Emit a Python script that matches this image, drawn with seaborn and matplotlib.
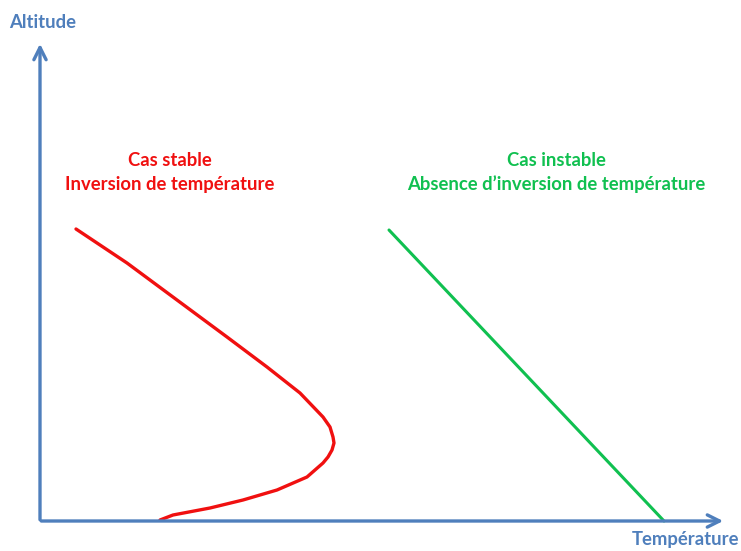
import matplotlib.pyplot as plt
import pandas as pd
import seaborn as sns

# Courbe cas stable (inversion) : température, altitude
stable_temp = [36, 87, 137, 187, 227, 260, 283, 290, 293, 294, 292, 288, 283, 267, 237, 203, 170, 133, 120]
stable_alt = [292, 258, 221, 184, 154, 128, 104, 94, 84, 78, 71, 64, 58, 44, 31, 21, 13, 6, 1]

# Courbe cas instable
instable_temp = [349, 624]
instable_alt = [291, 0]

axis_color = '#4F7FBC'
red = '#F01010'
green = '#10C050'

sns.set_theme(style='white')
plt.rcParams['font.family'] = ['Lato', 'DejaVu Sans']

fig = plt.figure(figsize=(7.41, 5.51), dpi=100)
ax = fig.add_axes([0, 0, 1, 1])
ax.set_xlim(-40, 701)
ax.set_ylim(-30, 521)
ax.axis('off')

df_stable = pd.DataFrame({'temp': stable_temp, 'alt': stable_alt})
df_instable = pd.DataFrame({'temp': instable_temp, 'alt': instable_alt})
sns.lineplot(data=df_stable, x='temp', y='alt', sort=False, estimator=None,
             color=red, linewidth=2.4, solid_joinstyle='round', ax=ax)
sns.lineplot(data=df_instable, x='temp', y='alt', sort=False, estimator=None,
             color=green, linewidth=2.2, ax=ax)

# Axes avec flèches
arrow = dict(arrowstyle='->', color=axis_color, lw=2.4, mutation_scale=22)
ax.annotate('', xy=(0, 480), xytext=(0, -1.5), arrowprops=arrow)
ax.annotate('', xy=(686, 0), xytext=(-1.5, 0), arrowprops=arrow)

ax.text(3, 498, 'Altitude', color=axis_color, fontsize=13.3, fontweight='bold',
        ha='center', va='center')
ax.text(646, -19, 'Température', color=axis_color, fontsize=13.3, fontweight='bold',
        ha='center', va='center')

ax.text(130, 348.5, 'Cas stable\nInversion de température', color=red, fontsize=13.3,
        fontweight='bold', ha='center', va='center', linespacing=1.45)
ax.text(516, 348.5, 'Cas instable\nAbsence d\u2019inversion de température', color=green,
        fontsize=13.3, fontweight='bold', ha='center', va='center', linespacing=1.45)

fig.savefig('out.png', dpi=100)
